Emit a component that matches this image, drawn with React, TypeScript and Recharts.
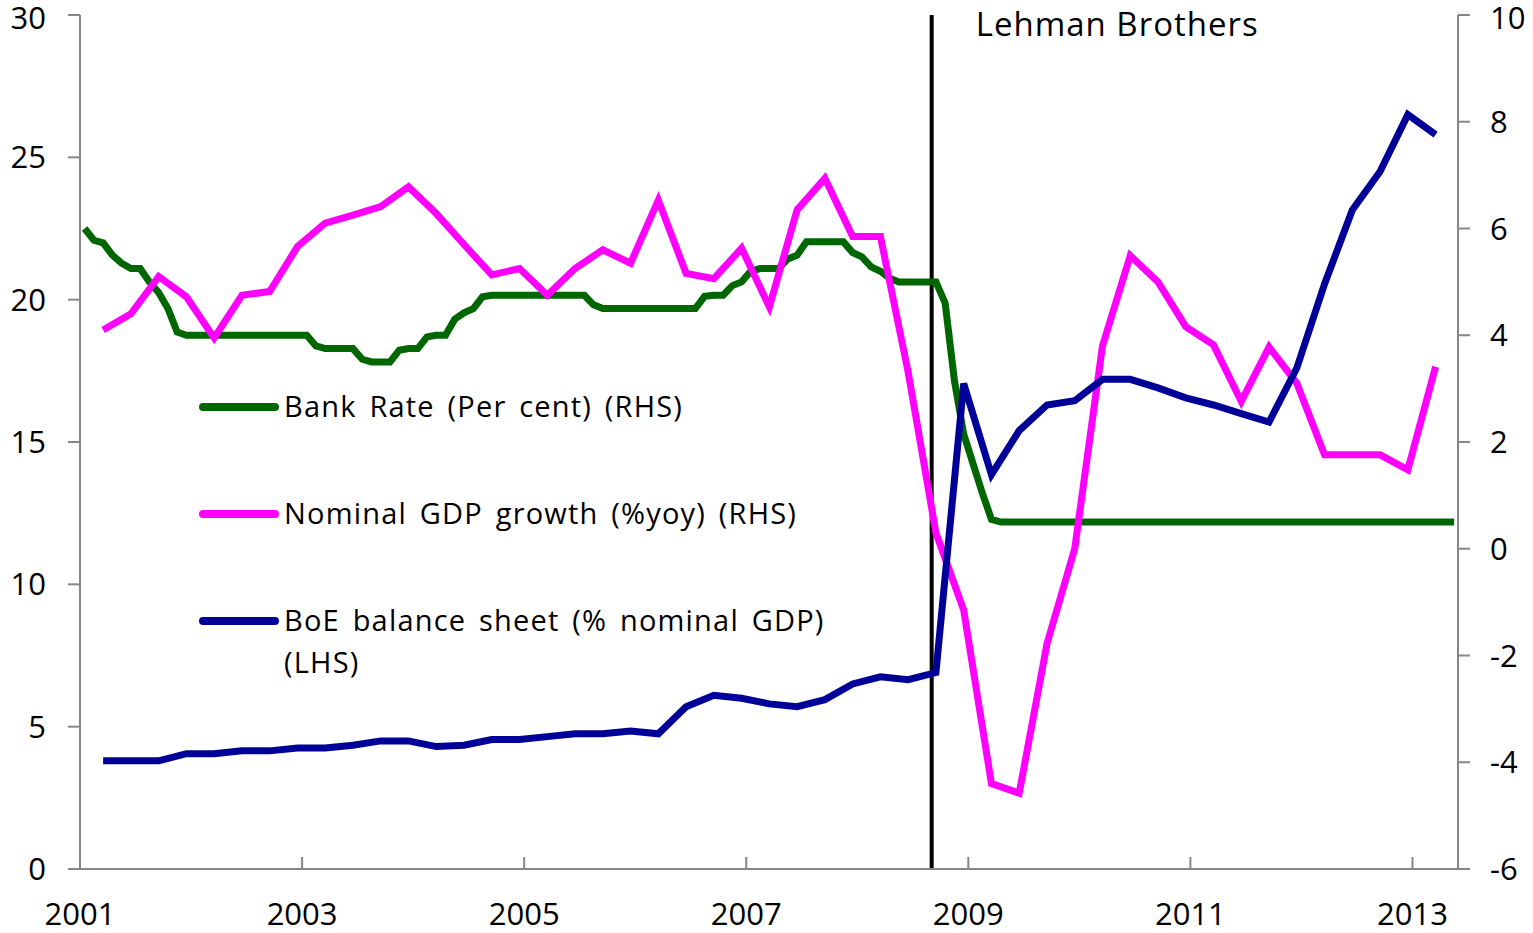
import React from 'react';
import { LineChart, Line, XAxis, YAxis, ReferenceLine } from 'recharts';

// Quarterly series, first point = Q1 2001
const boeBalanceSheet = [
  3.8, 3.8, 3.8, 4.05, 4.05, 4.15, 4.15, 4.25, 4.25, 4.35, 4.5, 4.5,
  4.3, 4.35, 4.55, 4.55, 4.65, 4.75, 4.75, 4.85, 4.75, 5.7, 6.1, 6.0,
  5.8, 5.7, 5.95, 6.5, 6.75, 6.65, 6.9, 17.05, 13.85, 15.4, 16.3, 16.45,
  17.2, 17.2, 16.9, 16.55, 16.3, 16.0, 15.7, 17.6, 20.55, 23.15, 24.5, 26.5,
  25.8,
];

const nominalGdpGrowth = [
  4.1, 4.4, 5.1, 4.72, 3.95, 4.75, 4.82, 5.66, 6.1, 6.25, 6.41, 6.78,
  6.28, 5.7, 5.13, 5.25, 4.75, 5.25, 5.6, 5.35, 6.53, 5.16, 5.06, 5.63,
  4.53, 6.35, 6.94, 5.85, 5.85, 3.31, 0.3, -1.15, -4.4, -4.58, -1.78, 0.0,
  3.8, 5.49, 5.0, 4.16, 3.82, 2.76, 3.78, 3.1, 1.76, 1.76, 1.76, 1.48,
  3.41,
];

// Monthly, first point = Jan 2001
const bankRate = [
  6.0, 5.78, 5.73, 5.5, 5.35, 5.25, 5.25, 5.0, 4.8, 4.5, 4.06, 4.0,
  4.0, 4.0, 4.0, 4.0, 4.0, 4.0, 4.0, 4.0, 4.0, 4.0, 4.0, 4.0,
  4.0, 3.8, 3.75, 3.75, 3.75, 3.75, 3.55, 3.5, 3.5, 3.5, 3.72, 3.75,
  3.75, 3.97, 4.0, 4.0, 4.3, 4.42, 4.5, 4.72, 4.75, 4.75, 4.75, 4.75,
  4.75, 4.75, 4.75, 4.75, 4.75, 4.75, 4.75, 4.57, 4.5, 4.5, 4.5, 4.5,
  4.5, 4.5, 4.5, 4.5, 4.5, 4.5, 4.5, 4.73, 4.75, 4.75, 4.93, 5.0,
  5.2, 5.25, 5.25, 5.25, 5.43, 5.5, 5.75, 5.75, 5.75, 5.75, 5.75, 5.55,
  5.47, 5.28, 5.2, 5.07, 5.0, 5.0, 5.0, 5.0, 5.0, 4.6, 3.15, 2.15,
  1.6, 1.05, 0.55, 0.5, 0.5, 0.5, 0.5, 0.5, 0.5, 0.5, 0.5, 0.5,
  0.5, 0.5, 0.5, 0.5, 0.5, 0.5, 0.5, 0.5, 0.5, 0.5, 0.5, 0.5,
  0.5, 0.5, 0.5, 0.5, 0.5, 0.5, 0.5, 0.5, 0.5, 0.5, 0.5, 0.5,
  0.5, 0.5, 0.5, 0.5, 0.5, 0.5, 0.5, 0.5, 0.5, 0.5, 0.5, 0.5,
  0.5, 0.5, 0.5, 0.5, 0.5,
];

const START_YEAR = 2001;
const END_YEAR = 2013.41;
const LEHMAN_DATE = 2008.67;
const xTicks = [2001, 2003, 2005, 2007, 2009, 2011, 2013];
const leftTicks = [0, 5, 10, 15, 20, 25, 30];
const rightTicks = [-6, -4, -2, 0, 2, 4, 6, 8, 10];

const GREEN = '#006600';
const PINK = '#FF00FF';
const BLUE = '#000099';
const AXIS = '#868686';
const FONT = '"Open Sans", sans-serif';

// mid-month of the 3rd month in each quarter
const quarterly = (vals: number[]) =>
  vals.map((v, k) => ({ t: START_YEAR + (3 * k + 2.5) / 12, v }));
const monthly = (vals: number[]) =>
  vals.map((v, i) => ({ t: START_YEAR + (i + 0.5) / 12, v }));

const boeData = quarterly(boeBalanceSheet);
const gdpData = quarterly(nominalGdpGrowth);
const rateData = monthly(bankRate);

const legendItems = [
  { color: GREEN, lines: ['Bank Rate (Per cent) (RHS)'] },
  { color: PINK, lines: ['Nominal GDP growth (%yoy) (RHS)'] },
  { color: BLUE, lines: ['BoE balance sheet (% nominal GDP)', '(LHS)'] },
];

const LegendBox = () => (
  <div
    style={{
      position: 'absolute',
      left: 199,
      top: 385,
      fontFamily: FONT,
      fontSize: 29,
      letterSpacing: 1.2,
      wordSpacing: 4,
      color: '#000',
    }}
  >
    {legendItems.map((it, i) => (
      <div key={i} style={{ display: 'flex', alignItems: 'flex-start', height: 107 }}>
        <div
          style={{
            width: 80,
            height: 8,
            background: it.color,
            borderRadius: 4,
            marginTop: 18,
            marginRight: 5,
          }}
        />
        <div style={{ lineHeight: '42px', whiteSpace: 'nowrap' }}>
          {it.lines.map((l) => (
            <div key={l}>{l}</div>
          ))}
        </div>
      </div>
    ))}
  </div>
);

const LehmanLabel = (props: any) => {
  const { viewBox } = props;
  return (
    <text
      x={viewBox.x + 44}
      y={viewBox.y + 21}
      fontFamily={FONT}
      fontSize={33}
      letterSpacing={1}
      fill="#000"
    >
      Lehman Brothers
    </text>
  );
};

export default function App() {
  const tickStyle = { fill: '#000', fontSize: 31, fontFamily: FONT };
  return (
    <div style={{ position: 'absolute', left: 0, top: 0, width: 1533, height: 933, background: '#fff' }}>
      <LineChart
        width={1533}
        height={933}
        margin={{ top: 15, right: 0, bottom: 0, left: 0 }}
      >
        <XAxis
          dataKey="t"
          type="number"
          domain={[START_YEAR, END_YEAR]}
          ticks={xTicks}
          allowDataOverflow
          height={64}
          tickSize={-12}
          tickMargin={46}
          stroke={AXIS}
          strokeWidth={2}
          tick={tickStyle}
        />
        <YAxis
          yAxisId="left"
          orientation="left"
          domain={[0, 30]}
          ticks={leftTicks}
          width={80}
          tickSize={12}
          tickMargin={22}
          stroke={AXIS}
          strokeWidth={2}
          tick={tickStyle}
        />
        <YAxis
          yAxisId="right"
          orientation="right"
          domain={[-6, 10]}
          ticks={rightTicks}
          width={75}
          tickSize={12}
          tickMargin={20}
          stroke={AXIS}
          strokeWidth={2}
          tick={{ ...tickStyle, textAnchor: 'start' }}
        />
        <ReferenceLine
          yAxisId="left"
          x={LEHMAN_DATE}
          stroke="#000"
          strokeWidth={4}
          label={<LehmanLabel />}
        />
        <Line
          yAxisId="right"
          data={rateData}
          dataKey="v"
          stroke={GREEN}
          strokeWidth={7}
          dot={false}
          isAnimationActive={false}
          name="Bank Rate (Per cent) (RHS)"
        />
        <Line
          yAxisId="right"
          data={gdpData}
          dataKey="v"
          stroke={PINK}
          strokeWidth={7}
          dot={false}
          isAnimationActive={false}
          name="Nominal GDP growth (%yoy) (RHS)"
        />
        <Line
          yAxisId="left"
          data={boeData}
          dataKey="v"
          stroke={BLUE}
          strokeWidth={7}
          dot={false}
          isAnimationActive={false}
          name="BoE balance sheet (% nominal GDP) (LHS)"
        />
      </LineChart>
      <LegendBox />
    </div>
  );
}
